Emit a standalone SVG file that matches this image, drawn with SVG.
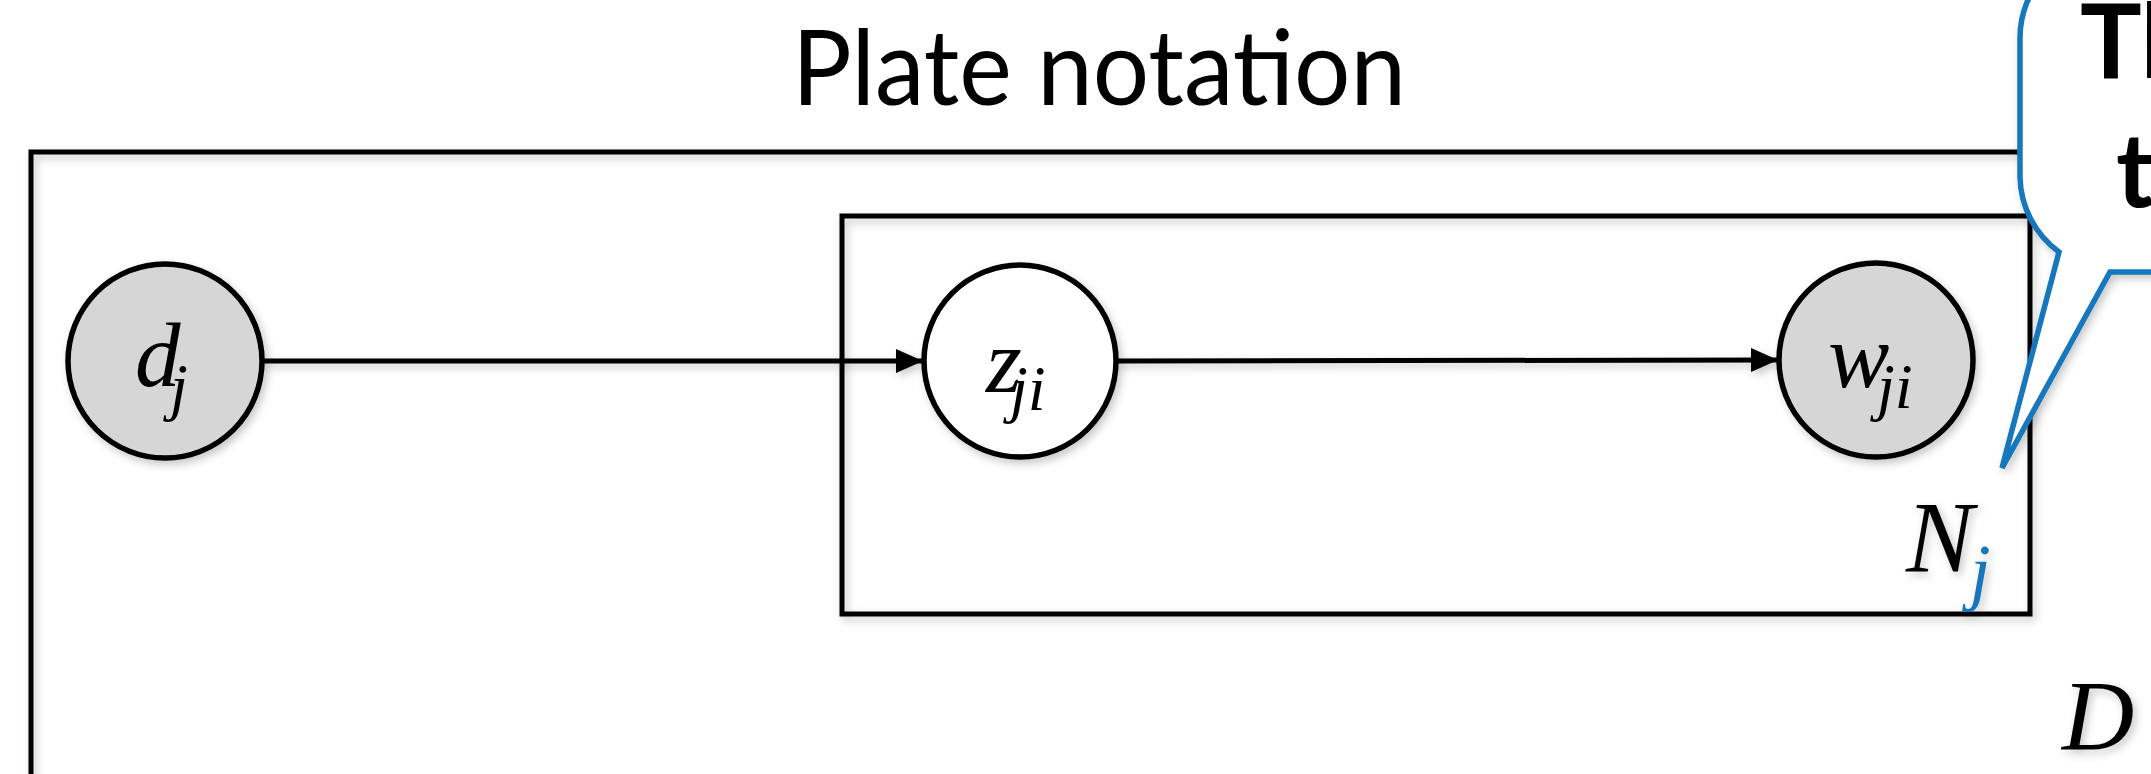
<svg xmlns="http://www.w3.org/2000/svg" width="2151" height="774" viewBox="0 0 2151 774">
<style>
.plate{fill:none;stroke:#000;stroke-width:5}
.node{stroke:#000;stroke-width:5.5}
.obs{fill:#d6d6d6}
.lat{fill:#fff}
.edge{stroke:#000;stroke-width:5;fill:none}
.m{font-family:"Liberation Serif","Times New Roman",serif;font-style:italic;fill:#000}
.title{font-family:Lato,"Liberation Sans",sans-serif;font-size:104px;fill:#000}
.call{font-family:Lato,"Liberation Sans",sans-serif;font-weight:bold;font-size:103px;fill:#000}
</style>
<defs>
<filter id="sh" filterUnits="userSpaceOnUse" x="-100" y="-200" width="2500" height="1200">
<feDropShadow dx="3" dy="4" stdDeviation="4" flood-color="#000" flood-opacity="0.22"/>
</filter>
<marker id="arr" markerUnits="userSpaceOnUse" markerWidth="28" markerHeight="26" refX="27" refY="13" orient="auto">
<path d="M0,1 L27,13 L0,25 z" fill="#000"/>
</marker>
</defs>
<rect width="2151" height="774" fill="#fff"/>
<text class="title" x="792" y="105" textLength="614" lengthAdjust="spacingAndGlyphs">Plate notation</text>
<g id="plate-D" filter="url(#sh)">
<rect class="plate" x="31" y="152" width="2300" height="800"/>
<text class="m" x="2062" y="749" font-size="100">D</text>
</g>
<g id="plate-N" filter="url(#sh)">
<rect class="plate" x="842" y="216" width="1188" height="398"/>
<text class="m" x="1906" y="572" font-size="101">N<tspan x="1970" y="596" font-size="74" fill="#1677bd">j</tspan></text>
</g>
<g id="connectors" filter="url(#sh)">
<line class="edge" x1="262" y1="361" x2="923" y2="361" marker-end="url(#arr)"/>
<line class="edge" x1="1116" y1="361" x2="1778" y2="360" marker-end="url(#arr)"/>
</g>
<g id="node-d" filter="url(#sh)">
<circle class="node obs" cx="165" cy="361" r="97"/>
<text class="m" x="135" y="386" font-size="91">d<tspan x="170" y="408" font-size="64">j</tspan></text>
</g>
<g id="node-z" filter="url(#sh)">
<circle class="node lat" cx="1020" cy="361" r="96"/>
<text class="m" x="986" y="392" font-size="92">z<tspan x="1010" y="410" font-size="64">ji</tspan></text>
</g>
<g id="node-w" filter="url(#sh)">
<circle class="node obs" cx="1876" cy="360" r="97"/>
<text class="m" x="1828" y="387" font-size="92">w<tspan x="1877" y="408" font-size="64">ji</tspan></text>
</g>
<g id="callout" filter="url(#sh)">
<path d="M2020,38 L2020,177 A95,95 0 0 0 2059,252 L2002,468 L2110,272 L2260,272 L2260,-60 L2115,-57 A95,95 0 0 0 2020,38 Z" fill="#fff" stroke="#1677bd" stroke-width="5.5" stroke-linejoin="miter"/>
<text class="call" x="2080" y="78">Th</text>
<text class="call" x="2116" y="207">t</text>
</g>
</svg>
